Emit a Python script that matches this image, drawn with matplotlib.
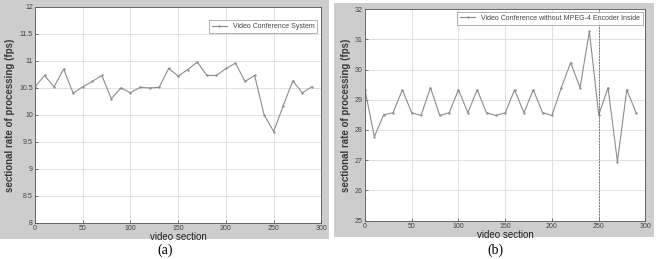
import matplotlib

matplotlib.use("Agg")

import matplotlib.pyplot as plt  # noqa: E402
from matplotlib.patches import Rectangle  # noqa: E402

plt.rcParams["font.family"] = ["Liberation Sans", "DejaVu Sans"]

# данные
sections = [0, 10, 20, 30, 40, 50, 60, 70, 80, 90, 100, 110, 120, 130, 140,
            150, 160, 170, 180, 190, 200, 210, 220, 230, 240, 250, 260, 270,
            280, 290]
fps_a = [10.52, 10.73, 10.52, 10.85, 10.40, 10.52, 10.62, 10.73, 10.30,
         10.50, 10.41, 10.51, 10.50, 10.51, 10.86, 10.72, 10.84, 10.98,
         10.73, 10.73, 10.86, 10.96, 10.62, 10.73, 10.00, 9.69, 10.17,
         10.63, 10.41, 10.52]
fps_b = [29.33, 27.78, 28.50, 28.57, 29.33, 28.57, 28.48, 29.40, 28.48,
         28.57, 29.33, 28.57, 29.33, 28.57, 28.48, 28.57, 29.33, 28.57,
         29.33, 28.57, 28.48, 29.40, 30.23, 29.40, 31.26, 28.50, 29.40,
         26.95, 29.33, 28.57]

label_a = "Video Conference System"
label_b = "Video Conference without MPEG-4 Encoder Inside"
yticks_a = [8, 8.5, 9, 9.5, 10, 10.5, 11, 11.5, 12]
yticks_b = [25, 26, 27, 28, 29, 30, 31, 32]
xticks = [0, 50, 100, 150, 200, 250, 300]

PANEL_BG = "#cdcdcd"
LINE_COLOR = "#8c8c8c"
GRID_COLOR = "#dcdcdc"
SPINE_COLOR = "#555555"

fig = plt.figure(figsize=(6.6, 2.59), dpi=100)

# серые подложки под каждый график (zorder ниже осей)
fig.patches.append(Rectangle((0.0, 0.077), 0.498, 0.923, transform=fig.transFigure,
                             facecolor=PANEL_BG, edgecolor="none", zorder=-5))
fig.patches.append(Rectangle((0.506, 0.085), 0.485, 0.905, transform=fig.transFigure,
                             facecolor=PANEL_BG, edgecolor="none", zorder=-5))

ax_a = fig.add_axes([0.053, 0.140, 0.434, 0.833])
ax_b = fig.add_axes([0.553, 0.148, 0.425, 0.817])


def style_axes(ax, ys, yticks, label, ylim):
    ax.plot(sections, ys, color=LINE_COLOR, linewidth=0.8, marker=".",
            markersize=1.4, label=label)
    ax.set_xlim(0, 300)
    ax.set_ylim(*ylim)
    ax.set_xticks(xticks)
    ax.set_yticks(yticks)
    ax.set_yticklabels([f"{t:g}" for t in yticks])
    ax.tick_params(labelsize=5, colors="#444444", direction="in",
                   length=2, width=0.5, pad=1.5)
    ax.grid(True, color=GRID_COLOR, linewidth=0.6)
    for spine in ax.spines.values():
        spine.set_color(SPINE_COLOR)
        spine.set_linewidth(0.6)
    ax.set_xlabel("video section", fontsize=7, labelpad=0, color="#222222")
    ax.set_ylabel("sectional rate of processing (fps)", fontsize=7,
                  fontweight="bold", labelpad=3, color="#3a3a3a")
    leg = ax.legend(loc="upper right", fontsize=5, frameon=True, fancybox=False,
                    edgecolor="#777777", handlelength=2.2, borderpad=0.4,
                    bbox_to_anchor=(0.997, 0.955))
    leg.get_frame().set_linewidth(0.5)
    for text in leg.get_texts():
        text.set_color("#444444")


style_axes(ax_a, fps_a, yticks_a, label_a, (8, 12))
style_axes(ax_b, fps_b, yticks_b, label_b, (25, 32))
ax_b.legend_.set_bbox_to_anchor((1.002, 1.002))
ax_b.axvline(250, color="#777777", linewidth=0.7, linestyle=(0, (2, 1)))

fig.text(0.25, 0.035, "(a)", ha="center", va="center", fontsize=10,
         family=["Liberation Serif", "DejaVu Serif"])
fig.text(0.75, 0.035, "(b)", ha="center", va="center", fontsize=10,
         family=["Liberation Serif", "DejaVu Serif"])

fig.savefig("out.png", dpi=100)
plt.close(fig)
